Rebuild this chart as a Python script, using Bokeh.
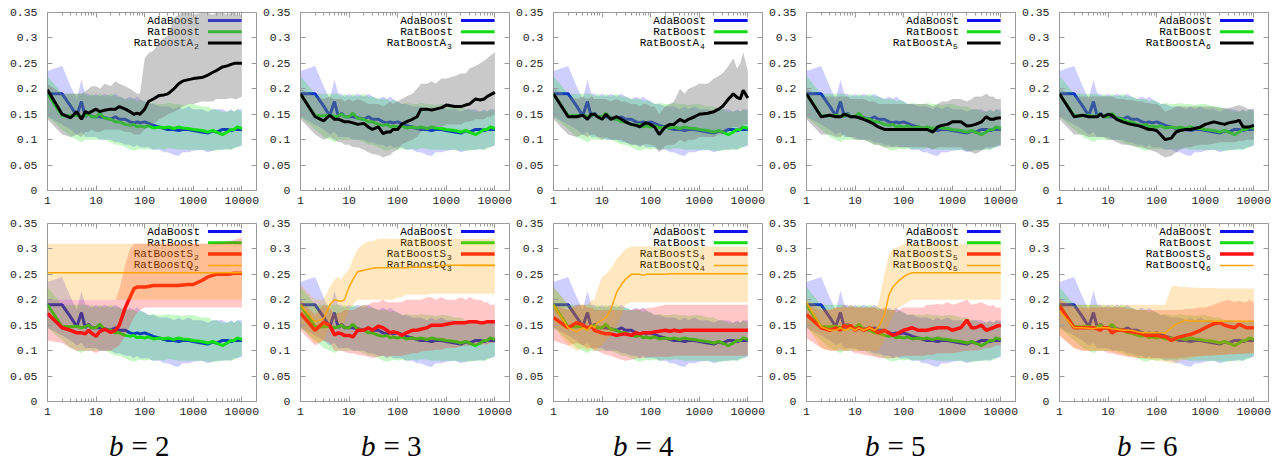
import math
from bokeh.plotting import figure
from bokeh.layouts import column, row
from bokeh.models import Range1d, FixedTicker, LinearAxis, LogAxis, Label, Spacer
from bokeh.embed import file_html
from bokeh.resources import INLINE
from bokeh.core.properties import value

# ---------------- data ----------------
X = [1, 2, 3, 4, 5, 6, 7, 8, 10, 12,
     15, 20, 25, 30, 40, 50, 60, 70, 80, 100,
     120, 150, 200, 250, 300, 400, 500, 600, 800, 1000,
     1500, 2000, 2500, 3000, 4000, 5000, 6000, 7000, 8000, 10000]

ADA = [0.190, 0.190, 0.166, 0.147, 0.175, 0.145, 0.152, 0.145, 0.145, 0.145,
       0.143, 0.140, 0.145, 0.140, 0.140, 0.135, 0.133, 0.135, 0.133, 0.135,
       0.132, 0.128, 0.125, 0.122, 0.120, 0.120, 0.118, 0.120, 0.120, 0.118,
       0.115, 0.113, 0.117, 0.115, 0.120, 0.120, 0.118, 0.120, 0.120, 0.120]
ADA_HI = [0.235, 0.245, 0.205, 0.180, 0.218, 0.190, 0.190, 0.185, 0.190, 0.185,
          0.190, 0.185, 0.190, 0.185, 0.180, 0.185, 0.180, 0.185, 0.180, 0.175,
          0.170, 0.170, 0.165, 0.165, 0.165, 0.160, 0.165, 0.160, 0.165, 0.160,
          0.160, 0.155, 0.160, 0.160, 0.160, 0.155, 0.160, 0.155, 0.160, 0.160]
ADA_LO = [0.145, 0.130, 0.120, 0.110, 0.115, 0.105, 0.105, 0.105, 0.105, 0.100,
          0.100, 0.100, 0.095, 0.095, 0.090, 0.090, 0.085, 0.090, 0.085, 0.085,
          0.085, 0.080, 0.080, 0.075, 0.075, 0.070, 0.068, 0.075, 0.075, 0.078,
          0.080, 0.075, 0.078, 0.080, 0.080, 0.082, 0.080, 0.085, 0.085, 0.088]

RAT = [0.190, 0.147, 0.147, 0.148, 0.145, 0.147, 0.150, 0.145, 0.145, 0.152,
       0.142, 0.140, 0.135, 0.135, 0.130, 0.128, 0.130, 0.125, 0.127, 0.125,
       0.127, 0.123, 0.125, 0.123, 0.125, 0.122, 0.125, 0.123, 0.122, 0.120,
       0.118, 0.115, 0.118, 0.115, 0.110, 0.115, 0.120, 0.120, 0.125, 0.122]
RAT_HI = [0.225, 0.190, 0.190, 0.190, 0.190, 0.190, 0.185, 0.190, 0.185, 0.190,
          0.185, 0.190, 0.185, 0.185, 0.180, 0.180, 0.180, 0.175, 0.178, 0.175,
          0.170, 0.172, 0.170, 0.170, 0.172, 0.170, 0.170, 0.168, 0.170, 0.170,
          0.165, 0.165, 0.160, 0.160, 0.155, 0.155, 0.158, 0.155, 0.160, 0.155]
RAT_LO = [0.145, 0.120, 0.105, 0.100, 0.095, 0.100, 0.100, 0.100, 0.100, 0.100,
          0.100, 0.095, 0.090, 0.090, 0.085, 0.080, 0.078, 0.080, 0.082, 0.080,
          0.082, 0.080, 0.082, 0.080, 0.083, 0.082, 0.080, 0.080, 0.080, 0.080,
          0.080, 0.078, 0.078, 0.078, 0.080, 0.080, 0.080, 0.082, 0.085, 0.090]

# RatBoostA_b (top row)
A2 = [0.198, 0.150, 0.143, 0.155, 0.140, 0.155, 0.152, 0.155, 0.160, 0.155,
      0.158, 0.160, 0.160, 0.165, 0.160, 0.155, 0.150, 0.152, 0.150, 0.160,
      0.175, 0.180, 0.187, 0.188, 0.190, 0.200, 0.210, 0.215, 0.218, 0.220,
      0.222, 0.227, 0.232, 0.236, 0.243, 0.245, 0.248, 0.250, 0.250, 0.250]
A2_HI = [0.210, 0.190, 0.190, 0.190, 0.190, 0.195, 0.200, 0.205, 0.205, 0.200,
         0.210, 0.205, 0.215, 0.210, 0.205, 0.200, 0.195, 0.190, 0.190, 0.260,
         0.270, 0.275, 0.290, 0.300, 0.305, 0.340, 0.345, 0.350, 0.350, 0.345,
         0.350, 0.350, 0.345, 0.350, 0.350, 0.345, 0.350, 0.350, 0.345, 0.345]
A2_LO = [0.140, 0.110, 0.105, 0.110, 0.105, 0.115, 0.115, 0.120, 0.115, 0.115,
         0.120, 0.120, 0.120, 0.120, 0.115, 0.115, 0.110, 0.110, 0.110, 0.120,
         0.125, 0.130, 0.140, 0.145, 0.150, 0.155, 0.160, 0.165, 0.170, 0.170,
         0.175, 0.175, 0.175, 0.180, 0.180, 0.180, 0.182, 0.180, 0.180, 0.185]

A3 = [0.190, 0.145, 0.137, 0.148, 0.140, 0.140, 0.138, 0.135, 0.135, 0.133,
      0.130, 0.132, 0.125, 0.120, 0.125, 0.112, 0.115, 0.115, 0.120, 0.120,
      0.130, 0.135, 0.140, 0.145, 0.160, 0.160, 0.158, 0.160, 0.163, 0.168,
      0.165, 0.165, 0.168, 0.170, 0.180, 0.178, 0.180, 0.185, 0.188, 0.193]
A3_HI = [0.200, 0.185, 0.180, 0.185, 0.180, 0.180, 0.180, 0.175, 0.180, 0.175,
         0.180, 0.175, 0.170, 0.170, 0.170, 0.165, 0.170, 0.175, 0.170, 0.175,
         0.180, 0.185, 0.190, 0.200, 0.210, 0.210, 0.215, 0.210, 0.220, 0.220,
         0.225, 0.230, 0.230, 0.240, 0.245, 0.250, 0.255, 0.260, 0.265, 0.272]
A3_LO = [0.140, 0.110, 0.100, 0.105, 0.100, 0.095, 0.095, 0.090, 0.090, 0.085,
         0.085, 0.080, 0.075, 0.072, 0.070, 0.065, 0.068, 0.070, 0.075, 0.080,
         0.090, 0.095, 0.100, 0.105, 0.115, 0.120, 0.120, 0.125, 0.125, 0.130,
         0.130, 0.130, 0.135, 0.135, 0.140, 0.140, 0.140, 0.145, 0.145, 0.150]

A4 = [0.190, 0.145, 0.145, 0.148, 0.140, 0.150, 0.150, 0.145, 0.140, 0.150,
      0.140, 0.145, 0.140, 0.135, 0.130, 0.128, 0.125, 0.130, 0.133, 0.130,
      0.125, 0.110, 0.125, 0.130, 0.130, 0.140, 0.135, 0.140, 0.145, 0.150,
      0.152, 0.155, 0.160, 0.165, 0.180, 0.190, 0.183, 0.180, 0.197, 0.182]
A4_HI = [0.200, 0.185, 0.180, 0.185, 0.180, 0.185, 0.180, 0.180, 0.180, 0.180,
         0.175, 0.180, 0.175, 0.175, 0.170, 0.170, 0.165, 0.170, 0.170, 0.165,
         0.165, 0.150, 0.165, 0.170, 0.175, 0.200, 0.190, 0.200, 0.205, 0.210,
         0.210, 0.220, 0.225, 0.230, 0.245, 0.260, 0.240, 0.250, 0.272, 0.235]
A4_LO = [0.140, 0.110, 0.105, 0.110, 0.105, 0.110, 0.110, 0.105, 0.100, 0.105,
         0.100, 0.100, 0.100, 0.095, 0.090, 0.090, 0.088, 0.090, 0.092, 0.090,
         0.088, 0.075, 0.088, 0.090, 0.090, 0.100, 0.095, 0.100, 0.100, 0.105,
         0.105, 0.105, 0.110, 0.110, 0.120, 0.125, 0.125, 0.120, 0.130, 0.130]

A5 = [0.190, 0.145, 0.148, 0.145, 0.145, 0.150, 0.148, 0.145, 0.145, 0.143,
      0.140, 0.135, 0.130, 0.125, 0.120, 0.120, 0.120, 0.120, 0.120, 0.120,
      0.120, 0.120, 0.120, 0.120, 0.120, 0.115, 0.125, 0.128, 0.130, 0.135,
      0.135, 0.127, 0.128, 0.130, 0.135, 0.145, 0.140, 0.140, 0.142, 0.143]
A5_HI = [0.200, 0.185, 0.185, 0.185, 0.185, 0.185, 0.185, 0.180, 0.180, 0.180,
         0.180, 0.175, 0.175, 0.170, 0.170, 0.170, 0.170, 0.170, 0.170, 0.170,
         0.170, 0.170, 0.170, 0.170, 0.170, 0.165, 0.170, 0.175, 0.175, 0.180,
         0.180, 0.175, 0.180, 0.185, 0.185, 0.190, 0.185, 0.185, 0.180, 0.180]
A5_LO = [0.140, 0.110, 0.110, 0.105, 0.105, 0.110, 0.105, 0.105, 0.100, 0.100,
         0.100, 0.095, 0.090, 0.090, 0.085, 0.085, 0.085, 0.085, 0.085, 0.085,
         0.085, 0.085, 0.085, 0.085, 0.085, 0.080, 0.085, 0.085, 0.085, 0.085,
         0.085, 0.078, 0.075, 0.072, 0.078, 0.085, 0.085, 0.085, 0.088, 0.090]

A6 = [0.190, 0.145, 0.148, 0.145, 0.145, 0.145, 0.150, 0.145, 0.150, 0.148,
      0.140, 0.135, 0.132, 0.130, 0.128, 0.125, 0.122, 0.120, 0.120, 0.118,
      0.110, 0.100, 0.103, 0.115, 0.118, 0.120, 0.120, 0.122, 0.125, 0.130,
      0.135, 0.132, 0.130, 0.133, 0.135, 0.138, 0.125, 0.125, 0.125, 0.128]
A6_HI = [0.200, 0.185, 0.185, 0.185, 0.185, 0.185, 0.185, 0.185, 0.185, 0.185,
         0.180, 0.180, 0.178, 0.178, 0.175, 0.175, 0.172, 0.172, 0.170, 0.170,
         0.165, 0.155, 0.160, 0.165, 0.165, 0.165, 0.165, 0.165, 0.165, 0.165,
         0.165, 0.162, 0.162, 0.162, 0.165, 0.168, 0.165, 0.162, 0.160, 0.160]
A6_LO = [0.140, 0.110, 0.110, 0.105, 0.105, 0.105, 0.105, 0.105, 0.100, 0.100,
         0.095, 0.090, 0.090, 0.088, 0.085, 0.085, 0.082, 0.080, 0.078, 0.075,
         0.070, 0.065, 0.068, 0.075, 0.080, 0.085, 0.085, 0.088, 0.090, 0.090,
         0.092, 0.095, 0.095, 0.095, 0.095, 0.098, 0.098, 0.100, 0.100, 0.100]

# RatBoostS_b and RatBoostQ_b (bottom row)
S2 = [0.173, 0.145, 0.140, 0.135, 0.135, 0.133, 0.140, 0.135, 0.128, 0.138,
      0.142, 0.136, 0.140, 0.150, 0.185, 0.205, 0.222, 0.225, 0.225, 0.225,
      0.226, 0.228, 0.228, 0.228, 0.228, 0.228, 0.228, 0.229, 0.230, 0.230,
      0.238, 0.245, 0.248, 0.250, 0.250, 0.250, 0.251, 0.252, 0.252, 0.252]
S2_HI = [0.200, 0.200, 0.200, 0.200, 0.200, 0.200, 0.200, 0.200, 0.200, 0.200,
         0.200, 0.200, 0.200, 0.220, 0.270, 0.300, 0.310, 0.310, 0.310, 0.310,
         0.310, 0.310, 0.310, 0.310, 0.310, 0.310, 0.310, 0.310, 0.310, 0.310,
         0.310, 0.310, 0.310, 0.312, 0.312, 0.315, 0.315, 0.318, 0.320, 0.322]
S2_LO = [0.120, 0.115, 0.105, 0.100, 0.100, 0.100, 0.100, 0.100, 0.095, 0.100,
         0.100, 0.100, 0.105, 0.110, 0.130, 0.150, 0.165, 0.175, 0.180, 0.185,
         0.185, 0.185, 0.185, 0.185, 0.185, 0.185, 0.185, 0.185, 0.185, 0.185,
         0.185, 0.185, 0.185, 0.185, 0.185, 0.185, 0.185, 0.185, 0.185, 0.185]
Q2 = [0.253, 0.253, 0.253, 0.253, 0.253, 0.253, 0.253, 0.253, 0.253, 0.253,
      0.253, 0.253, 0.253, 0.253, 0.253, 0.253, 0.253, 0.253, 0.253, 0.253,
      0.253, 0.253, 0.253, 0.253, 0.253, 0.253, 0.253, 0.253, 0.253, 0.253,
      0.253, 0.253, 0.253, 0.253, 0.253, 0.253, 0.253, 0.253, 0.253, 0.253]
Q2_HI = [0.310, 0.310, 0.310, 0.310, 0.310, 0.310, 0.310, 0.310, 0.310, 0.310,
         0.310, 0.310, 0.310, 0.310, 0.310, 0.310, 0.310, 0.310, 0.310, 0.310,
         0.310, 0.310, 0.310, 0.310, 0.310, 0.310, 0.310, 0.310, 0.310, 0.310,
         0.310, 0.310, 0.310, 0.310, 0.310, 0.310, 0.310, 0.310, 0.310, 0.310]
Q2_LO = [0.200, 0.200, 0.200, 0.200, 0.200, 0.200, 0.200, 0.200, 0.200, 0.200,
         0.200, 0.200, 0.200, 0.200, 0.200, 0.200, 0.200, 0.200, 0.200, 0.200,
         0.200, 0.200, 0.200, 0.200, 0.200, 0.200, 0.200, 0.200, 0.200, 0.200,
         0.200, 0.200, 0.200, 0.200, 0.200, 0.200, 0.200, 0.200, 0.200, 0.200]

S3 = [0.174, 0.140, 0.156, 0.150, 0.131, 0.135, 0.133, 0.130, 0.130, 0.127,
      0.140, 0.140, 0.145, 0.140, 0.148, 0.145, 0.140, 0.135, 0.137, 0.135,
      0.130, 0.135, 0.140, 0.140, 0.142, 0.145, 0.150, 0.150, 0.150, 0.152,
      0.155, 0.155, 0.155, 0.157, 0.157, 0.155, 0.155, 0.157, 0.157, 0.157]
S3_HI = [0.200, 0.170, 0.190, 0.185, 0.170, 0.175, 0.175, 0.180, 0.180, 0.180,
         0.185, 0.190, 0.190, 0.195, 0.195, 0.200, 0.195, 0.195, 0.195, 0.195,
         0.195, 0.200, 0.200, 0.200, 0.200, 0.205, 0.205, 0.200, 0.205, 0.200,
         0.200, 0.205, 0.200, 0.205, 0.200, 0.200, 0.195, 0.195, 0.190, 0.190]
S3_LO = [0.140, 0.110, 0.120, 0.115, 0.100, 0.100, 0.100, 0.098, 0.095, 0.095,
         0.092, 0.090, 0.088, 0.085, 0.088, 0.090, 0.088, 0.088, 0.090, 0.090,
         0.090, 0.092, 0.095, 0.095, 0.098, 0.100, 0.100, 0.102, 0.102, 0.105,
         0.105, 0.108, 0.110, 0.110, 0.110, 0.112, 0.112, 0.112, 0.115, 0.115]
Q3 = [0.190, 0.157, 0.163, 0.190, 0.200, 0.198, 0.197, 0.200, 0.225, 0.240,
      0.255, 0.258, 0.260, 0.262, 0.263, 0.263, 0.263, 0.263, 0.263, 0.263,
      0.263, 0.263, 0.264, 0.264, 0.264, 0.264, 0.265, 0.266, 0.267, 0.268,
      0.268, 0.268, 0.268, 0.268, 0.268, 0.268, 0.268, 0.268, 0.268, 0.268]
Q3_HI = [0.230, 0.200, 0.200, 0.225, 0.240, 0.245, 0.240, 0.250, 0.260, 0.280,
         0.300, 0.310, 0.315, 0.315, 0.320, 0.320, 0.320, 0.320, 0.320, 0.320,
         0.320, 0.320, 0.320, 0.320, 0.320, 0.320, 0.320, 0.320, 0.320, 0.320,
         0.320, 0.320, 0.320, 0.320, 0.320, 0.320, 0.320, 0.320, 0.320, 0.320]
Q3_LO = [0.150, 0.115, 0.120, 0.150, 0.160, 0.155, 0.150, 0.155, 0.180, 0.190,
         0.200, 0.200, 0.200, 0.200, 0.200, 0.200, 0.200, 0.200, 0.200, 0.205,
         0.205, 0.210, 0.210, 0.210, 0.210, 0.210, 0.212, 0.212, 0.212, 0.212,
         0.212, 0.212, 0.212, 0.212, 0.212, 0.212, 0.212, 0.212, 0.212, 0.212]

S4 = [0.165, 0.145, 0.155, 0.150, 0.145, 0.148, 0.140, 0.138, 0.135, 0.133,
      0.133, 0.130, 0.132, 0.133, 0.130, 0.135, 0.133, 0.135, 0.135, 0.135,
      0.137, 0.138, 0.140, 0.138, 0.140, 0.138, 0.140, 0.140, 0.140, 0.140,
      0.140, 0.140, 0.140, 0.140, 0.140, 0.140, 0.140, 0.140, 0.140, 0.140]
S4_HI = [0.190, 0.180, 0.190, 0.190, 0.185, 0.185, 0.180, 0.180, 0.180, 0.180,
         0.180, 0.180, 0.180, 0.180, 0.180, 0.182, 0.182, 0.183, 0.183, 0.185,
         0.185, 0.188, 0.190, 0.190, 0.190, 0.190, 0.190, 0.190, 0.190, 0.190,
         0.190, 0.190, 0.190, 0.190, 0.190, 0.190, 0.190, 0.190, 0.190, 0.190]
S4_LO = [0.120, 0.110, 0.115, 0.110, 0.105, 0.105, 0.100, 0.100, 0.095, 0.092,
         0.090, 0.085, 0.082, 0.080, 0.082, 0.085, 0.085, 0.086, 0.087, 0.088,
         0.088, 0.088, 0.088, 0.088, 0.090, 0.090, 0.090, 0.090, 0.090, 0.090,
         0.090, 0.090, 0.090, 0.090, 0.090, 0.090, 0.090, 0.090, 0.090, 0.090]
Q4 = [0.190, 0.145, 0.137, 0.145, 0.140, 0.150, 0.145, 0.155, 0.160, 0.165,
      0.180, 0.215, 0.230, 0.240, 0.250, 0.250, 0.250, 0.248, 0.250, 0.250,
      0.250, 0.250, 0.250, 0.251, 0.251, 0.251, 0.251, 0.251, 0.251, 0.251,
      0.251, 0.251, 0.251, 0.251, 0.251, 0.251, 0.251, 0.251, 0.251, 0.251]
Q4_HI = [0.225, 0.190, 0.185, 0.190, 0.190, 0.200, 0.200, 0.220, 0.245, 0.250,
         0.260, 0.280, 0.290, 0.300, 0.305, 0.305, 0.305, 0.305, 0.305, 0.305,
         0.305, 0.305, 0.305, 0.305, 0.305, 0.305, 0.305, 0.305, 0.305, 0.305,
         0.305, 0.305, 0.305, 0.305, 0.305, 0.305, 0.305, 0.305, 0.305, 0.305]
Q4_LO = [0.150, 0.110, 0.100, 0.105, 0.100, 0.105, 0.100, 0.105, 0.110, 0.120,
         0.130, 0.150, 0.170, 0.190, 0.195, 0.195, 0.195, 0.195, 0.195, 0.195,
         0.195, 0.195, 0.195, 0.195, 0.195, 0.195, 0.195, 0.195, 0.195, 0.195,
         0.195, 0.195, 0.195, 0.195, 0.195, 0.195, 0.195, 0.195, 0.195, 0.195]

S5 = [0.171, 0.145, 0.140, 0.145, 0.140, 0.150, 0.145, 0.150, 0.140, 0.145,
      0.140, 0.145, 0.140, 0.135, 0.140, 0.135, 0.130, 0.132, 0.135, 0.140,
      0.142, 0.145, 0.140, 0.140, 0.140, 0.143, 0.145, 0.145, 0.145, 0.140,
      0.145, 0.160, 0.145, 0.145, 0.150, 0.140, 0.143, 0.145, 0.148, 0.150]
S5_HI = [0.190, 0.180, 0.180, 0.185, 0.185, 0.190, 0.185, 0.190, 0.185, 0.185,
         0.185, 0.185, 0.185, 0.180, 0.185, 0.180, 0.180, 0.180, 0.180, 0.185,
         0.185, 0.185, 0.185, 0.185, 0.190, 0.190, 0.192, 0.190, 0.195, 0.190,
         0.195, 0.200, 0.190, 0.192, 0.195, 0.190, 0.188, 0.190, 0.185, 0.185]
S5_LO = [0.125, 0.105, 0.100, 0.100, 0.100, 0.100, 0.100, 0.100, 0.095, 0.095,
         0.092, 0.090, 0.088, 0.085, 0.085, 0.085, 0.085, 0.086, 0.088, 0.090,
         0.090, 0.090, 0.090, 0.090, 0.092, 0.092, 0.095, 0.095, 0.095, 0.095,
         0.098, 0.100, 0.100, 0.100, 0.102, 0.105, 0.105, 0.108, 0.110, 0.110]
Q5 = [0.195, 0.147, 0.140, 0.140, 0.145, 0.140, 0.142, 0.145, 0.140, 0.145,
      0.140, 0.145, 0.140, 0.145, 0.170, 0.210, 0.225, 0.232, 0.238, 0.245,
      0.250, 0.253, 0.253, 0.253, 0.253, 0.253, 0.253, 0.253, 0.253, 0.253,
      0.253, 0.253, 0.253, 0.253, 0.253, 0.253, 0.253, 0.253, 0.253, 0.253]
Q5_HI = [0.200, 0.185, 0.180, 0.185, 0.185, 0.185, 0.185, 0.185, 0.185, 0.185,
         0.185, 0.185, 0.185, 0.190, 0.250, 0.290, 0.300, 0.303, 0.305, 0.310,
         0.310, 0.310, 0.310, 0.310, 0.310, 0.310, 0.310, 0.310, 0.310, 0.310,
         0.310, 0.310, 0.310, 0.310, 0.310, 0.310, 0.310, 0.310, 0.310, 0.310]
Q5_LO = [0.150, 0.105, 0.100, 0.100, 0.105, 0.100, 0.100, 0.105, 0.100, 0.100,
         0.100, 0.100, 0.100, 0.100, 0.120, 0.150, 0.170, 0.180, 0.185, 0.190,
         0.195, 0.200, 0.200, 0.200, 0.200, 0.200, 0.200, 0.200, 0.200, 0.200,
         0.200, 0.200, 0.200, 0.200, 0.200, 0.200, 0.200, 0.200, 0.200, 0.200]

S6 = [0.188, 0.145, 0.145, 0.145, 0.145, 0.143, 0.140, 0.145, 0.145, 0.135,
      0.140, 0.140, 0.138, 0.137, 0.135, 0.133, 0.130, 0.130, 0.130, 0.130,
      0.128, 0.128, 0.120, 0.125, 0.127, 0.130, 0.132, 0.135, 0.140, 0.145,
      0.153, 0.155, 0.150, 0.148, 0.145, 0.152, 0.148, 0.145, 0.145, 0.145]
S6_HI = [0.200, 0.185, 0.185, 0.185, 0.185, 0.185, 0.185, 0.185, 0.185, 0.185,
         0.185, 0.185, 0.182, 0.182, 0.180, 0.180, 0.180, 0.180, 0.180, 0.180,
         0.180, 0.180, 0.180, 0.180, 0.180, 0.182, 0.182, 0.183, 0.185, 0.185,
         0.190, 0.195, 0.198, 0.200, 0.195, 0.198, 0.195, 0.195, 0.200, 0.195]
S6_LO = [0.130, 0.105, 0.100, 0.100, 0.100, 0.100, 0.100, 0.100, 0.095, 0.095,
         0.092, 0.090, 0.088, 0.087, 0.086, 0.085, 0.085, 0.085, 0.085, 0.085,
         0.085, 0.085, 0.085, 0.085, 0.086, 0.087, 0.088, 0.089, 0.090, 0.090,
         0.091, 0.092, 0.092, 0.093, 0.093, 0.094, 0.094, 0.095, 0.095, 0.095]
Q6 = [0.178, 0.145, 0.145, 0.144, 0.143, 0.145, 0.145, 0.145, 0.145, 0.143,
      0.142, 0.140, 0.140, 0.140, 0.137, 0.135, 0.135, 0.135, 0.135, 0.135,
      0.135, 0.135, 0.145, 0.152, 0.155, 0.160, 0.158, 0.158, 0.158, 0.158,
      0.158, 0.158, 0.158, 0.158, 0.158, 0.158, 0.158, 0.158, 0.158, 0.158]
Q6_HI = [0.200, 0.190, 0.190, 0.190, 0.190, 0.190, 0.190, 0.190, 0.190, 0.190,
         0.190, 0.190, 0.190, 0.190, 0.190, 0.190, 0.190, 0.190, 0.190, 0.190,
         0.190, 0.190, 0.225, 0.228, 0.225, 0.225, 0.224, 0.224, 0.223, 0.223,
         0.223, 0.222, 0.222, 0.222, 0.222, 0.222, 0.222, 0.222, 0.222, 0.222]
Q6_LO = [0.130, 0.105, 0.100, 0.100, 0.100, 0.100, 0.100, 0.100, 0.100, 0.098,
         0.095, 0.092, 0.090, 0.088, 0.086, 0.085, 0.084, 0.083, 0.082, 0.080,
         0.079, 0.078, 0.075, 0.075, 0.080, 0.082, 0.085, 0.087, 0.088, 0.090,
         0.090, 0.092, 0.092, 0.093, 0.093, 0.094, 0.094, 0.095, 0.095, 0.095]

B_VALUES = [2, 3, 4, 5, 6]
A_SERIES = {2: (A2, A2_LO, A2_HI), 3: (A3, A3_LO, A3_HI), 4: (A4, A4_LO, A4_HI),
            5: (A5, A5_LO, A5_HI), 6: (A6, A6_LO, A6_HI)}
S_SERIES = {2: (S2, S2_LO, S2_HI), 3: (S3, S3_LO, S3_HI), 4: (S4, S4_LO, S4_HI),
            5: (S5, S5_LO, S5_HI), 6: (S6, S6_LO, S6_HI)}
Q_SERIES = {2: (Q2, Q2_LO, Q2_HI), 3: (Q3, Q3_LO, Q3_HI), 4: (Q4, Q4_LO, Q4_HI),
            5: (Q5, Q5_LO, Q5_HI), 6: (Q6, Q6_LO, Q6_HI)}

X_TICKS = [1, 10, 100, 1000, 10000]
X_TICK_LABELS = ["1", "10", "100", "1000", "10000"]
Y_TICKS = [0, 0.05, 0.1, 0.15, 0.2, 0.25, 0.3, 0.35]
Y_TICK_LABELS = ["0", "0.05", "0.1", "0.15", "0.2", "0.25", "0.3", "0.35"]
X_MINOR = [m * 10 ** d for d in range(4) for m in range(2, 10)]

# ---------------- style ----------------
XMAX = 20000.0
LOGX = math.log10(XMAX)
FRAME_W, FRAME_H = 211, 178
FIG_W = 253
LEFT_PAD, TOP_PAD = 6, 4
TOP_H, BOT_H, CAP_H = 212, 211, 36
MONO = "Liberation Mono"
TICK_COLOR = "#9a9a9a"

BLUE, GREEN, BLACK, RED, ORANGE = "#1010ee", "#11dd11", "#000000", "#ff1010", "#ffa500"
BAND = {"ada": ("#2020ff", 0.22), "rat": ("#00e000", 0.22), "A": ("#777777", 0.40),
        "S": ("#ff2020", 0.25), "Q": ("#ffa500", 0.25)}


def fx(px):
    return 10 ** (px / FRAME_W * LOGX)


def fy(py):
    return 0.35 * (1 - py / FRAME_H)


def cfg_axis(ax, ticks, labels, minor, show):
    ax.ticker = FixedTicker(ticks=ticks, minor_ticks=minor)
    ax.axis_line_color = None
    ax.major_tick_in = 5
    ax.major_tick_out = 0
    ax.minor_tick_in = 3
    ax.minor_tick_out = 0
    ax.major_tick_line_color = TICK_COLOR
    ax.minor_tick_line_color = TICK_COLOR
    ax.major_label_text_font = MONO
    if show:
        ax.major_label_overrides = {t: s for t, s in zip(ticks, labels)}
        ax.major_label_text_font_size = "11.5px"
        ax.major_label_text_color = "#222222"
    else:
        ax.major_label_overrides = {t: "" for t in ticks}
        ax.major_label_text_font_size = "1px"
        ax.major_label_text_alpha = 0
        ax.major_label_standoff = 0


def legend_entry(p, k, name, sub, color, width):
    y = fy(8 + 11.3 * k)
    xt = fx(154)
    p.add_layout(Label(x=xt, y=y, text=name, text_align="right", text_baseline="middle",
                       text_font=MONO, text_font_size="11px", text_color="#000000",
                       x_offset=-7 if sub else 0, level="underlay"))
    if sub:
        p.add_layout(Label(x=xt, y=y, text=sub, text_align="left", text_baseline="middle",
                           text_font=MONO, text_font_size="8px", text_color="#000000",
                           x_offset=-6, y_offset=-3, level="underlay"))
    p.segment(x0=[fx(162)], y0=[y], x1=[fx(196)], y1=[y], line_color=color, line_width=width)


def series(p, k, name, sub, data, band_key, color, width):
    mean, lo, hi = data
    fc, fa = BAND[band_key]
    p.varea(x=X, y1=lo, y2=hi, fill_color=fc, fill_alpha=fa)
    p.line(X, mean, line_color=color, line_width=width)
    legend_entry(p, k, name, sub, color, width)


def make_panel(b, top):
    p = figure(width=FIG_W, height=TOP_H if top else BOT_H, x_axis_type="log",
               x_range=Range1d(1, XMAX), y_range=Range1d(0, 0.35),
               toolbar_location=None, tools="", output_backend="svg",
               min_border_left=39, min_border_right=3,
               min_border_top=8 if top else 7, min_border_bottom=26)
    p.xgrid.visible = False
    p.ygrid.visible = False
    p.outline_line_color = TICK_COLOR
    p.background_fill_color = "white"
    cfg_axis(p.below[0], X_TICKS, X_TICK_LABELS, X_MINOR, True)
    p.below[0].major_label_standoff = 6
    cfg_axis(p.left[0], Y_TICKS, Y_TICK_LABELS, [], True)
    p.left[0].major_label_standoff = 10
    ax_top = LogAxis()
    cfg_axis(ax_top, X_TICKS, X_TICK_LABELS, X_MINOR, False)
    p.add_layout(ax_top, "above")
    ax_right = LinearAxis()
    cfg_axis(ax_right, Y_TICKS, Y_TICK_LABELS, [], False)
    p.add_layout(ax_right, "right")

    series(p, 0, "AdaBoost", None, (ADA, ADA_LO, ADA_HI), "ada", BLUE, 3)
    series(p, 1, "RatBoost", None, (RAT, RAT_LO, RAT_HI), "rat", GREEN, 3)
    if top:
        series(p, 2, "RatBoostA", str(b), A_SERIES[b], "A", BLACK, 3)
    else:
        series(p, 2, "RatBoostS", str(b), S_SERIES[b], "S", RED, 3.5)
        series(p, 3, "RatBoostQ", str(b), Q_SERIES[b], "Q", ORANGE, 1.5)
    return p


top_row = row(Spacer(width=LEFT_PAD, height=TOP_H), *[make_panel(b, True) for b in B_VALUES], spacing=0)
bot_row = row(Spacer(width=LEFT_PAD, height=BOT_H), *[make_panel(b, False) for b in B_VALUES], spacing=0)

cap = figure(width=FIG_W * 5, height=CAP_H, x_range=Range1d(0, FIG_W * 5), y_range=Range1d(0, CAP_H),
             toolbar_location=None, tools="", output_backend="svg", min_border=0,
             x_axis_location=None, y_axis_location=None)
cap.outline_line_color = None
cap.xgrid.visible = False
cap.ygrid.visible = False
cx = [132 + 252 * i for i in range(len(B_VALUES))]
cy = [CAP_H - 18] * len(cx)
cap.text(x=[c - 15 for c in cx], y=cy, text=["b"] * len(cx),
         text_align="right", text_baseline="middle",
         text_font=value("Liberation Serif"), text_font_style="italic",
         text_font_size="29px", text_color="black")
cap.text(x=[c - 7 for c in cx], y=cy, text=["= %d" % b for b in B_VALUES],
         text_align="left", text_baseline="middle",
         text_font=value("Liberation Serif"), text_font_size="29px", text_color="black")
cap_row = row(Spacer(width=LEFT_PAD, height=CAP_H), cap, spacing=0)

layout = column(Spacer(width=10, height=TOP_PAD), top_row, bot_row, cap_row, spacing=0)
open("out.html", "w").write(file_html(layout, INLINE))
